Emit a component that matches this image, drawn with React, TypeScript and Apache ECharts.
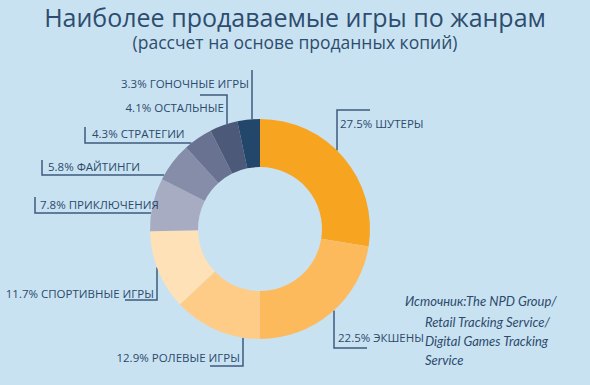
import React, { useEffect, useRef } from "react";
import * as echarts from "echarts";

const categories = [
  "ШУТЕРЫ",
  "ЭКШЕНЫ",
  "РОЛЕВЫЕ ИГРЫ",
  "СПОРТИВНЫЕ ИГРЫ",
  "ПРИКЛЮЧЕНИЯ",
  "ФАЙТИНГИ",
  "СТРАТЕГИИ",
  "ОСТАЛЬНЫЕ",
  "ГОНОЧНЫЕ ИГРЫ",
];
const shares = [27.5, 22.5, 12.9, 11.7, 7.8, 5.8, 4.3, 4.1, 3.3];
const sliceColors = [
  "#F7A520",
  "#FDBA5C",
  "#FECC86",
  "#FEE1B6",
  "#A7ACC2",
  "#868DA8",
  "#6A7291",
  "#4D5979",
  "#23466B",
];

const titleText = "Наиболее продаваемые игры по жанрам";
const subtitleText = "(рассчет на основе проданных копий)";
const sourceLabel = "Источник:";
const sourceFirst = "The NPD Group/";
const sourceRest = ["Retail Tracking Service/", "Digital Games Tracking", "Service"];

const CX = 260;
const CY = 229;
const R_IN = 62;
const R_OUT = 110;
const TEXT = "#2C4A6B";
const LINE = "#3D5C7E";

type Lay = {
  at: "x" | "y";
  v: number;
  side: number;
  pts: number[][];
  lx: number;
  ly: number;
  align: "left" | "right";
};
const layouts: Lay[] = [
  { at: "x", v: 337, side: -1, pts: [[337, 110], [370, 110]], lx: 340, ly: 123, align: "left" },
  { at: "x", v: 334, side: 1, pts: [[334, 348], [367, 348]], lx: 338, ly: 337, align: "left" },
  { at: "x", v: 243, side: 1, pts: [[243, 366], [210, 366]], lx: 240, ly: 357, align: "right" },
  { at: "x", v: 157, side: 1, pts: [[157, 300], [125, 300]], lx: 154, ly: 293, align: "right" },
  { at: "y", v: 213, side: -1, pts: [[35, 213], [35, 197]], lx: 40, ly: 204, align: "left" },
  { at: "y", v: 175, side: -1, pts: [[42, 175], [42, 160]], lx: 48, ly: 166, align: "left" },
  { at: "y", v: 143, side: -1, pts: [[85, 143], [85, 127]], lx: 92, ly: 133, align: "left" },
  { at: "x", v: 227, side: -1, pts: [[227, 95], [200, 95]], lx: 224, ly: 107, align: "right" },
  { at: "x", v: 252, side: -1, pts: [[252, 70], [252, 70]], lx: 249, ly: 83, align: "right" },
];

function edgePoint(l: Lay): number[] {
  if (l.at === "x") {
    const dx = l.v - CX;
    const h = Math.sqrt(Math.max(0, R_OUT * R_OUT - dx * dx));
    return [l.v, CY + l.side * h];
  }
  const dy = l.v - CY;
  const w = Math.sqrt(Math.max(0, R_OUT * R_OUT - dy * dy));
  return [CX - w, l.v];
}

export default function App() {
  const ref = useRef<HTMLDivElement>(null);
  useEffect(() => {
    if (!ref.current) return;
    const chart = echarts.init(ref.current, null, { renderer: "svg" });
    const data = categories.map((name, i) => ({
      name,
      value: shares[i],
      itemStyle: { color: sliceColors[i] },
    }));
    chart.setOption({
      animation: false,
      backgroundColor: "#C9E2F2",
      title: [
        {
          text: titleText,
          left: "center",
          top: 3,
          padding: 0,
          textStyle: {
            fontFamily: "Open Sans",
            fontSize: 25,
            lineHeight: 28,
            fontWeight: "normal",
            color: "#2E4D6E",
          },
        },
        {
          text: subtitleText,
          left: "center",
          top: 31,
          padding: 0,
          textStyle: {
            fontFamily: "Open Sans",
            fontSize: 17.5,
            lineHeight: 22,
            fontWeight: "normal",
            color: "#2E4D6E",
          },
        },
      ],
      series: [
        {
          type: "pie",
          center: [CX, CY],
          radius: [R_IN, R_OUT],
          startAngle: 90,
          clockwise: true,
          data,
          label: {
            show: true,
            formatter: (p: any) => `${p.value}% ${p.name}`,
            fontFamily: "Open Sans",
            fontSize: 11.5,
            color: TEXT,
            overflow: "none",
          },
          labelLine: {
            show: true,
            smooth: false,
            lineStyle: { color: LINE, width: 1.5 },
          },
          labelLayout: (params: any) => {
            const l = layouts[params.dataIndex];
            return {
              x: l.lx,
              y: l.ly,
              align: l.align,
              verticalAlign: "middle",
              labelLinePoints: [edgePoint(l), l.pts[0], l.pts[1]],
            };
          },
          emphasis: { disabled: true },
        },
      ],
      graphic: [
        {
          type: "text",
          left: 405,
          top: 294,
          style: {
            text: sourceLabel,
            font: "italic 13px Lato, 'Open Sans'",
            fill: TEXT,
          },
        },
        {
          type: "text",
          left: 466,
          top: 294,
          style: {
            text: sourceFirst,
            font: "italic 13px Lato, 'Open Sans'",
            fill: TEXT,
          },
        },
        {
          type: "text",
          left: 425,
          top: 312,
          style: {
            text: sourceRest.join("\n"),
            font: "italic 13px Lato, 'Open Sans'",
            lineHeight: 19,
            fill: TEXT,
          },
        },
      ],
    });
    return () => chart.dispose();
  }, []);
  return (
    <div
      ref={ref}
      style={{ position: "absolute", left: 0, top: 0, width: 590, height: 385 }}
    />
  );
}
